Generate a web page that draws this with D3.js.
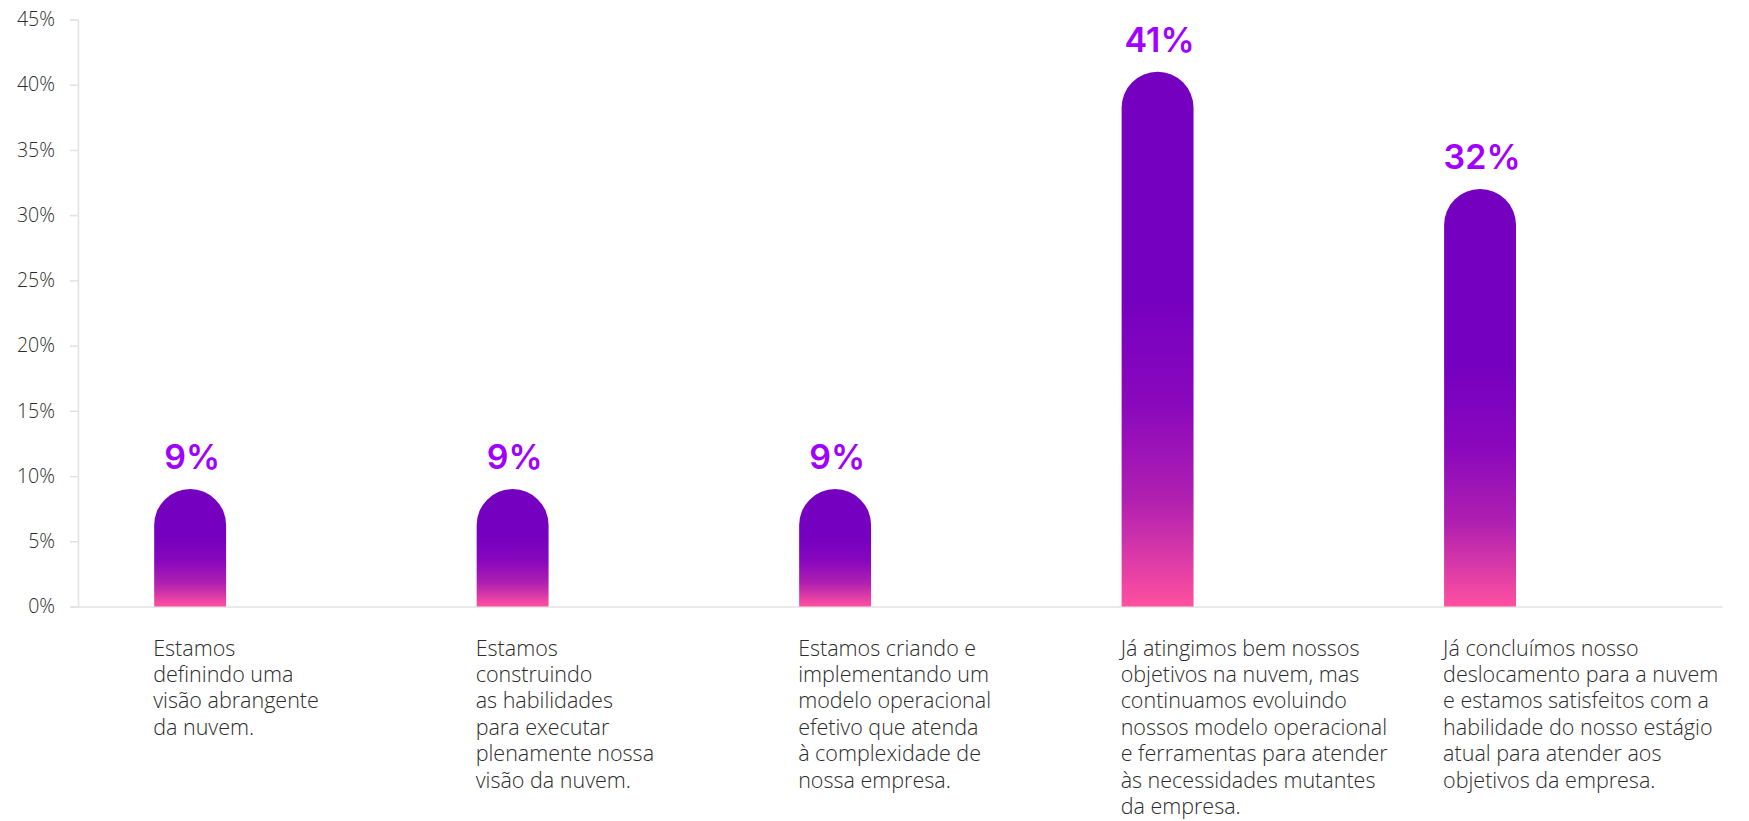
<!DOCTYPE html>
<html>
<head>
<meta charset="utf-8">
<script src="https://cdn.jsdelivr.net/npm/d3@7"></script>
<style>
    body { margin: 0; background: #ffffff; }
    svg { display: block; }
    .axis { font-family: "Open Sans", Inter, sans-serif; }
    .axis path, .axis line { stroke: #e2e2e2; stroke-width: 1.5; }
    .axis text { fill: #2b2b2b; font-weight: 300; }
    .y-axis text { font-size: 19.5px; }
    .x-axis text { font-size: 21.5px; }
    .value-label { fill: #a100ff; font-family: Inter, sans-serif; font-weight: 600; font-size: 34px; }
</style>
</head>
<body>
<div id="chart"></div>
<script>
const categoryLines = [
    ["Estamos", "definindo uma", "visão abrangente", "da nuvem."],
    ["Estamos", "construindo", "as habilidades", "para executar", "plenamente nossa", "visão da nuvem."],
    ["Estamos criando e", "implementando um", "modelo operacional", "efetivo que atenda", "à complexidade de", "nossa empresa."],
    ["Já atingimos bem nossos", "objetivos na nuvem, mas", "continuamos evoluindo", "nossos modelo operacional", "e ferramentas para atender", "às necessidades mutantes", "da empresa."],
    ["Já concluímos nosso", "deslocamento para a nuvem", "e estamos satisfeitos com a", "habilidade do nosso estágio", "atual para atender aos", "objetivos da empresa."]
];
const categories = categoryLines.map(lines => lines.join(" "));
const percentages = [9, 9, 9, 41, 32];
const yTicks = [0, 5, 10, 15, 20, 25, 30, 35, 40, 45];

function drawChart() {
    const width = 1749;
    const height = 821;
    const margin = { top: 19.5, right: 27, bottom: 214.5, left: 78 };
    const innerWidth = width - margin.left - margin.right;
    const innerHeight = height - margin.top - margin.bottom;

    const data = categories.map((c, i) => ({ cat: c, lines: categoryLines[i], value: percentages[i] }));

    const svg = d3.select("#chart")
        .append("svg")
        .attr("width", width)
        .attr("height", height);

    const defs = svg.append("defs");
    const grad = defs.append("linearGradient")
        .attr("id", "bar-grad")
        .attr("x1", 0).attr("y1", 0)
        .attr("x2", 0).attr("y2", 1);
    [
        [0, "#7500c0"],
        [0.42, "#7500c0"],
        [0.62, "#8a08bd"],
        [0.8, "#b020b0"],
        [1, "#ff50a0"]
    ].forEach(([o, c]) => grad.append("stop").attr("offset", o).attr("stop-color", c));

    const chart = svg.append("g")
        .attr("transform", `translate(${margin.left},${margin.top})`);

    const x = d3.scaleBand()
        .domain(categories)
        .range([0, innerWidth])
        .paddingInner(0.777)
        .paddingOuter(0.4375)
        .align(0.27);

    const y = d3.scaleLinear()
        .domain([0, 45])
        .range([innerHeight, 0]);

    chart.append("g")
        .attr("class", "axis y-axis")
        .call(d3.axisLeft(y).tickValues(yTicks).tickSize(8).tickPadding(15).tickFormat(d => `${d}%`))
        .attr("font-family", null)
        .attr("font-size", null);

    const xAxis = chart.append("g")
        .attr("class", "axis x-axis")
        .attr("transform", `translate(0,${innerHeight})`)
        .call(d3.axisBottom(x).tickSize(0).tickSizeOuter(0))
        .attr("font-family", null)
        .attr("font-size", null);

    const bw = x.bandwidth();
    xAxis.selectAll(".tick text")
        .attr("text-anchor", "start")
        .attr("y", 0)
        .attr("dy", 0)
        .text(null)
        .each(function(d) {
            const lines = categoryLines[categories.indexOf(d)];
            const t = d3.select(this);
            lines.forEach((line, i) => {
                t.append("tspan")
                    .attr("x", -bw / 2 - 1)
                    .attr("y", 49 + i * 26.4)
                    .text(line);
            });
        });

    const r = bw / 2;
    chart.selectAll(".bar")
        .data(data)
        .enter()
        .append("path")
        .attr("class", "bar")
        .attr("fill", "url(#bar-grad)")
        .attr("d", d => {
            const x0 = x(d.cat);
            const top = y(d.value);
            return `M${x0},${innerHeight}V${top + r}A${r},${r} 0 0 1 ${x0 + bw},${top + r}V${innerHeight}Z`;
        });

    chart.selectAll(".value-label")
        .data(data)
        .enter()
        .append("text")
        .attr("class", "value-label")
        .attr("x", d => x(d.cat) + bw / 2 + 2)
        .attr("y", d => y(d.value) - 20)
        .attr("text-anchor", "middle")
        .text(d => `${d.value}%`);
}

drawChart();
</script>
</body>
</html>
